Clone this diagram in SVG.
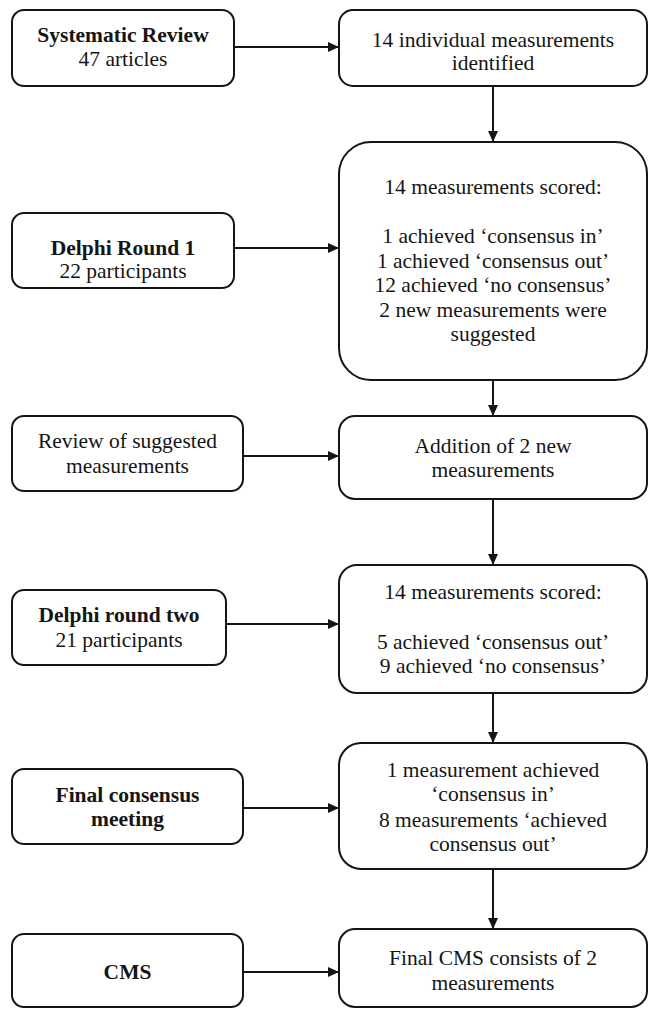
<svg xmlns="http://www.w3.org/2000/svg" width="649" height="1009" viewBox="0 0 649 1009">
<style>
.box{fill:#fff;stroke:#151515;stroke-width:2}
.t{font-family:"Liberation Serif","Tinos","DejaVu Serif",serif;font-weight:400;font-size:21.5px;fill:#151515;text-anchor:middle}
.b{font-weight:700}
.c{stroke:#151515;stroke-width:2;fill:none;marker-end:url(#ah)}
</style>
<defs>
<marker id="ah" markerUnits="userSpaceOnUse" markerWidth="11" markerHeight="10" refX="11" refY="5" orient="auto">
<path d="M0,0 L11,5 L0,10 z" fill="#151515"/>
</marker>
</defs>
<rect width="649" height="1009" fill="#fff"/>
<g id="connectors">
<line class="c" x1="234" y1="47" x2="339" y2="47"/>
<line class="c" x1="493" y1="86" x2="493" y2="142"/>
<line class="c" x1="234" y1="248" x2="339" y2="248"/>
<line class="c" x1="493" y1="380" x2="493" y2="416"/>
<line class="c" x1="243" y1="456" x2="339" y2="456"/>
<line class="c" x1="493" y1="499" x2="493" y2="565"/>
<line class="c" x1="226" y1="624" x2="339" y2="624"/>
<line class="c" x1="493" y1="693" x2="493" y2="743"/>
<line class="c" x1="243" y1="808" x2="339" y2="808"/>
<line class="c" x1="493" y1="869" x2="493" y2="929"/>
<line class="c" x1="243" y1="972" x2="339" y2="972"/>
</g>
<g id="systematic-review">
<rect class="box" x="12" y="10" width="222" height="76" rx="12"/>
<text class="t b" x="123" y="42">Systematic Review</text>
<text class="t" x="123" y="66">47 articles</text>
</g>
<g id="identified">
<rect class="box" x="339" y="10" width="308" height="76" rx="14"/>
<text class="t" x="493" y="47">14 individual measurements</text>
<text class="t" x="493" y="70">identified</text>
</g>
<g id="delphi-1">
<rect class="box" x="12" y="213" width="222" height="75" rx="12"/>
<text class="t b" x="123" y="255">Delphi Round 1</text>
<text class="t" x="123" y="278">22 participants</text>
</g>
<g id="round1-results">
<rect class="box" x="339" y="142" width="308" height="238" rx="32"/>
<text class="t" x="493" y="194">14 measurements scored:</text>
<text class="t" x="493" y="243">1 achieved ‘consensus in’</text>
<text class="t" x="493" y="267.5">1 achieved ‘consensus out’</text>
<text class="t" x="493" y="292">12 achieved ‘no consensus’</text>
<text class="t" x="493" y="316.5">2 new measurements were</text>
<text class="t" x="493" y="341">suggested</text>
</g>
<g id="review-suggested">
<rect class="box" x="12" y="416" width="231" height="75" rx="12"/>
<text class="t" x="127.5" y="448">Review of suggested</text>
<text class="t" x="127.5" y="473">measurements</text>
</g>
<g id="addition">
<rect class="box" x="339" y="416" width="308" height="83" rx="16"/>
<text class="t" x="493" y="453">Addition of 2 new</text>
<text class="t" x="493" y="477">measurements</text>
</g>
<g id="delphi-2">
<rect class="box" x="12" y="590" width="214" height="75" rx="12"/>
<text class="t b" x="119" y="622">Delphi round two</text>
<text class="t" x="119" y="647">21 participants</text>
</g>
<g id="round2-results">
<rect class="box" x="339" y="565" width="308" height="128" rx="18"/>
<text class="t" x="493" y="599">14 measurements scored:</text>
<text class="t" x="493" y="649">5 achieved ‘consensus out’</text>
<text class="t" x="493" y="673">9 achieved ‘no consensus’</text>
</g>
<g id="final-consensus">
<rect class="box" x="12" y="769" width="231" height="75" rx="12"/>
<text class="t b" x="127.5" y="802">Final consensus</text>
<text class="t b" x="127.5" y="826">meeting</text>
</g>
<g id="meeting-results">
<rect class="box" x="339" y="743" width="308" height="126" rx="22"/>
<text class="t" x="493" y="777">1 measurement achieved</text>
<text class="t" x="493" y="801">‘consensus in’</text>
<text class="t" x="493" y="827">8 measurements ‘achieved</text>
<text class="t" x="493" y="851">consensus out’</text>
</g>
<g id="cms">
<rect class="box" x="12" y="934" width="231" height="73" rx="12"/>
<text class="t b" x="127.5" y="979">CMS</text>
</g>
<g id="final-cms">
<rect class="box" x="339" y="929" width="308" height="78" rx="16"/>
<text class="t" x="493" y="965">Final CMS consists of 2</text>
<text class="t" x="493" y="990">measurements</text>
</g>
</svg>
